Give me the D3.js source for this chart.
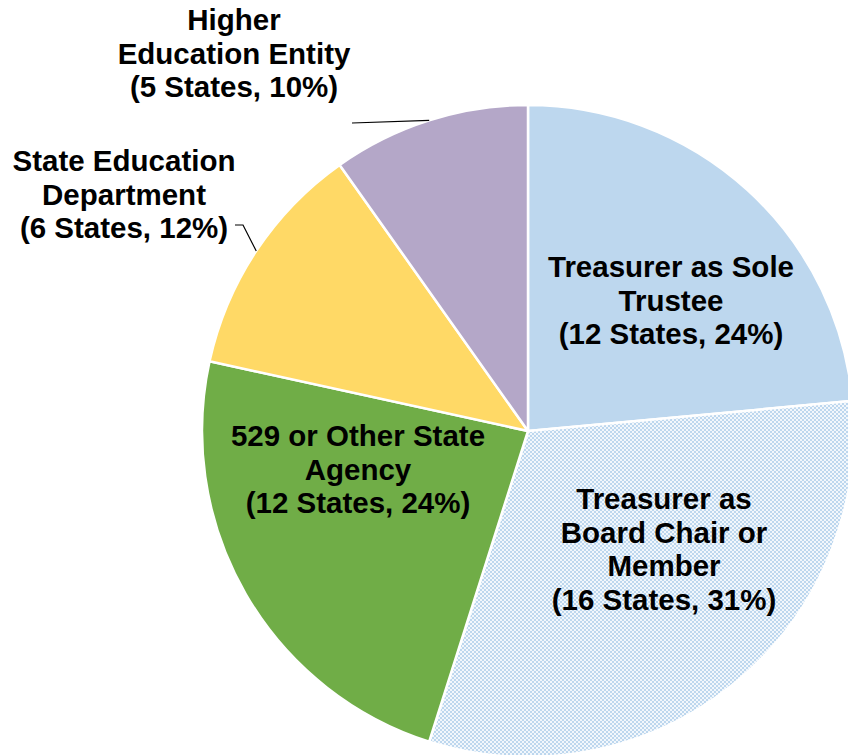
<!DOCTYPE html>
<html>
<head>
<meta charset="utf-8">
<script src="https://cdn.jsdelivr.net/npm/d3@7"></script>
<style>
  body { margin: 0; background: #fff; }
  svg { display: block; }
  text { font-family: "Liberation Sans", Arial, sans-serif; font-weight: bold; font-size: 29.5px; fill: #000; }
</style>
</head>
<body>
<svg class="chart" width="848" height="755"></svg>
<script>
// data
var categories = ["Treasurer as Sole Trustee", "Treasurer as Board Chair or Member", "529 or Other State Agency", "State Education Department", "Higher Education Entity"]
var states = [12, 16, 12, 6, 5]
var percents = [24, 31, 24, 12, 10]
var labelLines = [
  ["Treasurer as Sole", "Trustee"],
  ["Treasurer as", "Board Chair or", "Member"],
  ["529 or Other State", "Agency"],
  ["State Education", "Department"],
  ["Higher", "Education Entity"]
]

var colors = ["#BDD7EE", "url(#checker)", "#70AD47", "#FFD966", "#B4A7C8"]

// label layout (center x, first line baseline y)
var labelPos = [
  {x: 671, y: 277},
  {x: 664, y: 509},
  {x: 358, y: 446},
  {x: 124, y: 171},
  {x: 234, y: 30}
]
var lineH = 33.5

var chart = d3.select(".chart")
var cx = 528, cy = 431, radius = 326

var defs = chart.append("defs")
var pat = defs.append("pattern")
  .attr("id", "checker")
  .attr("patternUnits", "userSpaceOnUse")
  .attr("width", 4).attr("height", 4)
pat.append("rect").attr("width", 4).attr("height", 4).attr("fill", "#BDD7EE")
pat.append("rect").attr("x", 0).attr("y", 0).attr("width", 2).attr("height", 2).attr("fill", "#fff").attr("fill-opacity", 0.8)
pat.append("rect").attr("x", 2).attr("y", 2).attr("width", 2).attr("height", 2).attr("fill", "#fff").attr("fill-opacity", 0.8)

var pie = d3.pie().sort(null).value(function(d) { return d })
var arc = d3.arc().innerRadius(0).outerRadius(radius)
var arcs = pie(states)

var g = chart.append("g").attr("transform", "translate(" + cx + "," + cy + ")")

g.selectAll(".slice")
    .data(arcs)
  .enter().append("path")
    .attr("class", "slice")
    .attr("d", arc)
    .attr("fill", function(d, i) { return colors[i] })
    .attr("stroke", "#fff")
    .attr("stroke-width", 2.5)
    .attr("stroke-linejoin", "round")

// leader lines go to the middle of the slice edge
function edgePoint(i) {
  var a = (arcs[i].startAngle + arcs[i].endAngle) / 2
  return [cx + radius * Math.sin(a), cy - radius * Math.cos(a)]
}
var p4 = edgePoint(4)
chart.append("polyline")
  .attr("points", [[352, 123], p4].map(function(p) { return p.join(",") }).join(" "))
  .attr("fill", "none").attr("stroke", "#000").attr("stroke-width", 1.2)

var p3 = edgePoint(3)
chart.append("polyline")
  .attr("points", [[235, 225], [243, 225], p3].map(function(p) { return p.join(",") }).join(" "))
  .attr("fill", "none").attr("stroke", "#000").attr("stroke-width", 1.2)

// labels
labelLines.forEach(function(lines, i) {
  var all = lines.concat(["(" + states[i] + " States, " + percents[i] + "%)"])
  var t = chart.append("text")
    .attr("text-anchor", "middle")
  all.forEach(function(s, j) {
    t.append("tspan")
      .attr("x", labelPos[i].x)
      .attr("y", labelPos[i].y + j * lineH)
      .text(s)
  })
})
</script>
</body>
</html>
